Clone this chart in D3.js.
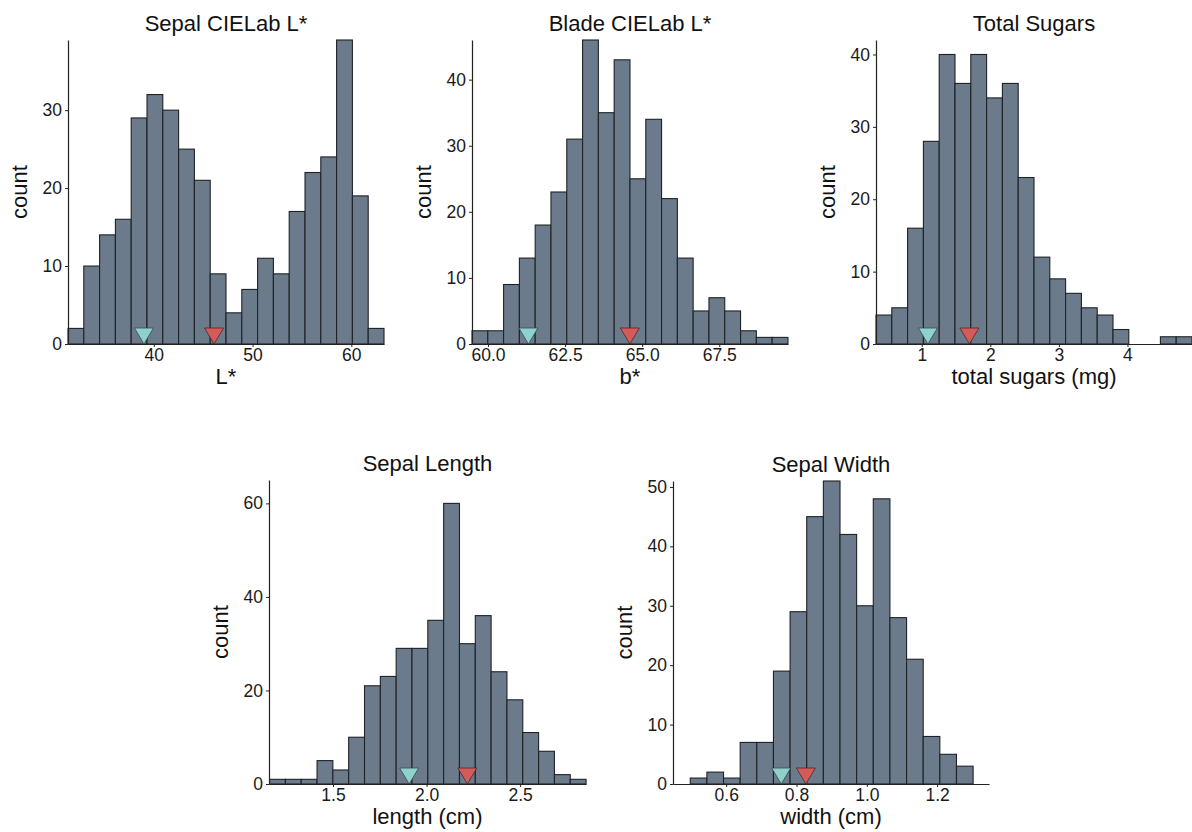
<!DOCTYPE html>
<html>
<head>
<meta charset="utf-8">
<script src="https://cdn.jsdelivr.net/npm/d3@7"></script>
<style>
  body { margin: 0; background: #fff; }
  svg { font-family: "Liberation Sans", Arial, sans-serif; }
  .axis path, .axis line { stroke: #222; }
  .axis text { fill: #1a1a1a; font-size: 17.5px; }
</style>
</head>
<body>
<svg width="1192" height="832"></svg>
<script>
// panel titles and axis titles
var titles = ['Sepal CIELab L*', 'Blade CIELab L*', 'Total Sugars', 'Sepal Length', 'Sepal Width'];
var xTitles = ['L*', 'b*', 'total sugars (mg)', 'length (cm)', 'width (cm)'];

// histogram bins: first edge, bin width, counts
var binStarts = [31.31, 59.48, 0.333, 1.161, 0.4978];
var binWidths = [1.6, 0.5124, 0.2304, 0.08457, 0.04733];
var sepalLCounts = [2, 10, 14, 16, 29, 32, 30, 25, 21, 9, 4, 7, 11, 9, 17, 22, 24, 39, 19, 2];
var bladeLCounts = [2, 2, 9, 13, 18, 23, 31, 46, 35, 43, 25, 34, 22, 13, 5, 7, 5, 2, 1, 1];
var sugarCounts = [4, 5, 16, 28, 40, 36, 40, 34, 36, 23, 12, 9, 7, 5, 4, 2, 0, 0, 1, 1];
var lengthCounts = [1, 1, 1, 5, 3, 10, 21, 23, 29, 29, 35, 60, 30, 36, 24, 18, 11, 7, 2, 1];
var widthCounts = [1, 2, 1, 7, 7, 19, 29, 45, 51, 42, 30, 48, 28, 21, 8, 5, 3];
var allCounts = [sepalLCounts, bladeLCounts, sugarCounts, lengthCounts, widthCounts];

// marker positions (cyan / red triangles)
var markerLow = [39.0, 61.31, 1.09, 1.907, 0.7565];
var markerHigh = [46.1, 64.6, 1.695, 2.218, 0.8267];

// axis domains and ticks
var xDomains = [[31.31, 63.31], [59.48, 69.73], [0.333, 4.941], [1.158, 2.852], [0.4487, 1.3476]];
var yMax = [39, 46, 42, 65, 51];
var xTicks = [[40, 50, 60], [60, 62.5, 65, 67.5], [1, 2, 3, 4], [1.5, 2.0, 2.5], [0.6, 0.8, 1.0, 1.2]];
var xTickFormats = ['d', '.1f', 'd', '.1f', '.1f'];
var yTicks = [[0, 10, 20, 30], [0, 10, 20, 30, 40], [0, 10, 20, 30, 40], [0, 20, 40, 60], [0, 10, 20, 30, 40, 50]];

// plot rectangles on the page
var layout = [
    {l: 68, t: 40, w: 316, h: 304},
    {l: 472, t: 40, w: 316, h: 304},
    {l: 876, t: 40, w: 316, h: 304},
    {l: 269, t: 480, w: 317, h: 304},
    {l: 673, t: 481, w: 316, h: 303}
];

var barFill = '#6c7b8b';
var lowFill = '#8fd1cd';
var highFill = '#d45b5a';

var svg = d3.select('svg');

titles.forEach(function(title, i) {
    var box = layout[i];
    var g = svg.append('g')
        .attr('transform', 'translate(' + [box.l, box.t] + ')');

    var x = d3.scaleLinear().domain(xDomains[i]).range([0, box.w]);
    var y = d3.scaleLinear().domain([0, yMax[i]]).range([box.h, 0]);

    var bins = allCounts[i].map(function(c, k) {
        return {x0: binStarts[i] + k * binWidths[i], x1: binStarts[i] + (k + 1) * binWidths[i], count: c};
    });

    g.selectAll('rect.bar')
        .data(bins)
        .enter()
        .append('rect')
        .attr('class', 'bar')
        .attr('x', function(d) { return x(d.x0); })
        .attr('width', function(d) { return x(d.x1) - x(d.x0); })
        .attr('y', function(d) { return y(d.count); })
        .attr('height', function(d) { return y(0) - y(d.count); })
        .style('fill', barFill)
        .style('stroke', '#1e2226')
        .style('stroke-width', 1.1);

    // down-pointing triangles, tip on the baseline
    var tri = function(v) {
        var px = x(v), py = y(0);
        return 'M' + (px - 9.5) + ',' + (py - 16) + 'L' + (px + 9.5) + ',' + (py - 16) + 'L' + px + ',' + py + 'Z';
    };
    g.append('path').attr('d', tri(markerLow[i]))
        .style('fill', lowFill).style('stroke', '#3b4a4a').style('stroke-width', 0.8);
    g.append('path').attr('d', tri(markerHigh[i]))
        .style('fill', highFill).style('stroke', '#4a2a2a').style('stroke-width', 0.8);

    var xAx = g.append('g')
        .attr('class', 'axis')
        .attr('transform', 'translate(0,' + box.h + ')')
        .call(d3.axisBottom(x).tickValues(xTicks[i]).tickFormat(d3.format(xTickFormats[i]))
            .tickSize(3).tickPadding(2).tickSizeOuter(0));
    var yAx = g.append('g')
        .attr('class', 'axis')
        .call(d3.axisLeft(y).tickValues(yTicks[i]).tickSize(3).tickPadding(3).tickSizeOuter(0));
    xAx.select('.domain').style('stroke-width', 1.2);
    yAx.select('.domain').style('stroke-width', 1.2);

    g.append('text')
        .attr('x', box.w / 2)
        .attr('y', -9)
        .attr('text-anchor', 'middle')
        .style('font-size', '22px')
        .style('fill', '#111')
        .text(title);

    g.append('text')
        .attr('x', box.w / 2)
        .attr('y', box.h + 40)
        .attr('text-anchor', 'middle')
        .style('font-size', '22px')
        .style('fill', '#111')
        .text(xTitles[i]);

    g.append('text')
        .attr('transform', 'translate(' + [-41, box.h / 2] + ') rotate(-90)')
        .attr('text-anchor', 'middle')
        .style('font-size', '22px')
        .style('fill', '#111')
        .text('count');
});
</script>
</body>
</html>
